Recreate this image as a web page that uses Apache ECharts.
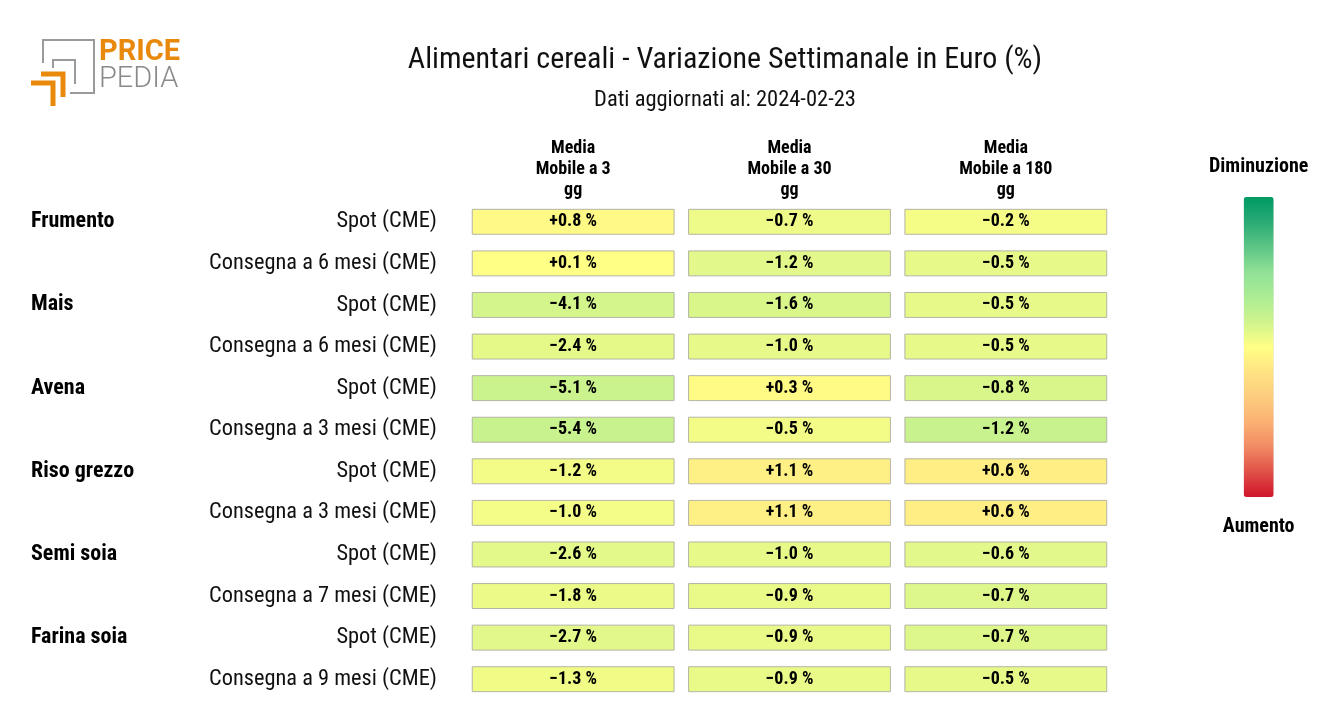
<!DOCTYPE html>
<html>
<head>
<meta charset="utf-8">
<script src="https://cdn.jsdelivr.net/npm/echarts@6/dist/echarts.min.js"></script>
<style>
html,body{margin:0;padding:0;background:#fff;}
#chart{width:1320px;height:720px;}
</style>
</head>
<body>
<div id="chart"></div>
<script>
// ---- data ----
const columns = ['Media\nMobile a 3\ngg', 'Media\nMobile a 30\ngg', 'Media\nMobile a 180\ngg'];
const groups = ['Frumento', 'Mais', 'Avena', 'Riso grezzo', 'Semi soia', 'Farina soia'];
const rowLabels = [
  'Spot (CME)', 'Consegna a 6 mesi (CME)',
  'Spot (CME)', 'Consegna a 6 mesi (CME)',
  'Spot (CME)', 'Consegna a 3 mesi (CME)',
  'Spot (CME)', 'Consegna a 3 mesi (CME)',
  'Spot (CME)', 'Consegna a 7 mesi (CME)',
  'Spot (CME)', 'Consegna a 9 mesi (CME)'
];
const mm3 = [0.8, 0.1, -4.1, -2.4, -5.1, -5.4, -1.2, -1.0, -2.6, -1.8, -2.7, -1.3];
const mm30 = [-0.7, -1.2, -1.6, -1.0, 0.3, -0.5, 1.1, 1.1, -1.0, -0.9, -0.9, -0.9];
const mm180 = [-0.2, -0.5, -0.5, -0.5, -0.8, -1.2, 0.6, 0.6, -0.6, -0.7, -0.7, -0.5];
const colRange = [27, 12, 6];
const legendText = ['Diminuzione', 'Aumento'];
const titleText = 'Alimentari cereali - Variazione Settimanale in Euro (%)';
const subText = 'Dati aggiornati al: 2024-02-23';

// colour map from decrease (green) through yellow (0) to increase (red)
const cmap = ['#009a63', '#2aab75', '#5cc585', '#90e196', '#abec94', '#cff48d', '#ffff85',
              '#fee383', '#fdcc7e', '#fbb173', '#f18a63', '#e05048', '#d0152a'];

const FONT = '"Roboto Condensed", Roboto, sans-serif';
const values = [mm3, mm30, mm180];
const groupLabels = rowLabels.map((_, i) => (i % 2 === 0 ? groups[i / 2] : ''));
const rowIdx = rowLabels.map((_, i) => String(i));

function fmt(v) {
  const s = Math.abs(v).toFixed(1);
  return (v >= 0 ? '+' : '\u2212') + s + ' %';
}

const series = values.map((col, c) => ({
  type: 'custom',
  coordinateSystem: 'cartesian2d',
  data: col.map((v, r) => [c, r, v]),
  encode: { x: 0, y: 1 },
  renderItem: function (params, api) {
    const p = api.coord([api.value(0), api.value(1)]);
    const s = api.size([1, 1]);
    const w = s[0] * 0.933, h = s[1] * 0.6;
    return {
      type: 'rect',
      shape: { x: p[0] - w / 2, y: p[1] - h / 2, width: w, height: h },
      style: { fill: api.visual('color'), stroke: '#b4b4a4', lineWidth: 1 },
      textContent: {
        style: { text: fmt(api.value(2)), fill: '#000', fontFamily: FONT, fontWeight: 'bold', fontSize: 18 }
      },
      textConfig: { position: 'inside' }
    };
  }
}));
series.push({ type: 'custom', coordinateSystem: 'cartesian2d', data: [], renderItem: function () { return null; } });

const visualMaps = values.map((col, c) => ({
  type: 'continuous', show: false, seriesIndex: c, dimension: 2,
  min: -colRange[c], max: colRange[c], inRange: { color: cmap }
}));
visualMaps.push({
  type: 'continuous', show: true, seriesIndex: 3, min: 0, max: 1,
  calculable: false, hoverLink: false, orient: 'vertical',
  left: 1194, top: 142, itemWidth: 30, itemHeight: 300,
  text: legendText, textGap: 20,
  textStyle: { fontFamily: FONT, fontWeight: 'bold', fontSize: 20, color: '#000' },
  inRange: { color: cmap.slice().reverse() }
});

const option = {
  backgroundColor: '#fff',
  animation: false,
  title: [
    { text: titleText, left: 720, top: 40, textAlign: 'center',
      textStyle: { fontFamily: FONT, fontWeight: 'normal', fontSize: 30, color: '#111' } },
    { text: subText, left: 720, top: 84, textAlign: 'center',
      textStyle: { fontFamily: FONT, fontWeight: 'normal', fontSize: 22.5, color: '#111' } }
  ],
  grid: { left: 465, top: 201, width: 649, height: 499, containLabel: false },
  xAxis: {
    type: 'category', position: 'top', data: columns,
    axisLine: { show: false }, axisTick: { show: false }, splitLine: { show: false },
    axisLabel: { fontFamily: FONT, fontWeight: 'bold', fontSize: 18, lineHeight: 21, color: '#000', margin: 0, interval: 0 }
  },
  yAxis: [
    {
      type: 'category', inverse: true, data: rowIdx, position: 'left',
      axisLine: { show: false }, axisTick: { show: false }, splitLine: { show: false },
      axisLabel: { interval: 0, margin: 28, fontFamily: FONT, fontSize: 22.4, color: '#111',
        padding: [3, 0, 0, 0], formatter: (v, i) => rowLabels[i] }
    },
    {
      type: 'category', inverse: true, data: rowIdx, position: 'left', offset: 0,
      axisLine: { show: false }, axisTick: { show: false }, splitLine: { show: false },
      axisLabel: { interval: 0, margin: 434, align: 'left', fontFamily: FONT, fontSize: 22,
        fontWeight: 'bold', color: '#000', padding: [0, 0, 10, 0],
        formatter: (v, i) => groupLabels[i] }
    }
  ],
  visualMap: visualMaps,
  series: series,
  graphic: [
    // logo
    { type: 'polyline', shape: { points: [[43, 63], [43, 40], [94, 40], [94, 93], [70, 93]] },
      style: { stroke: '#9a9a9a', lineWidth: 2, fill: null } },
    { type: 'polyline', shape: { points: [[53, 68], [53, 60], [75, 60], [75, 84]] },
      style: { stroke: '#9a9a9a', lineWidth: 2, fill: null } },
    { type: 'polyline', shape: { points: [[41, 74], [63, 74], [63, 97]] },
      style: { stroke: '#e8890c', lineWidth: 5, fill: null } },
    { type: 'polyline', shape: { points: [[31, 83], [53, 83], [53, 106]] },
      style: { stroke: '#e8890c', lineWidth: 5, fill: null } },
    { type: 'text', left: 99, top: 38,
      style: { text: 'PRICE', fill: '#e8890c', font: 'bold 29px Roboto, sans-serif' } },
    { type: 'text', left: 99, top: 65,
      style: { text: 'PEDIA', fill: '#8a8a8a', font: '300 29px Roboto, sans-serif' } }
  ]
};

const chart = echarts.init(document.getElementById('chart'), null, { renderer: 'canvas' });
chart.setOption(option);
</script>
</body>
</html>
